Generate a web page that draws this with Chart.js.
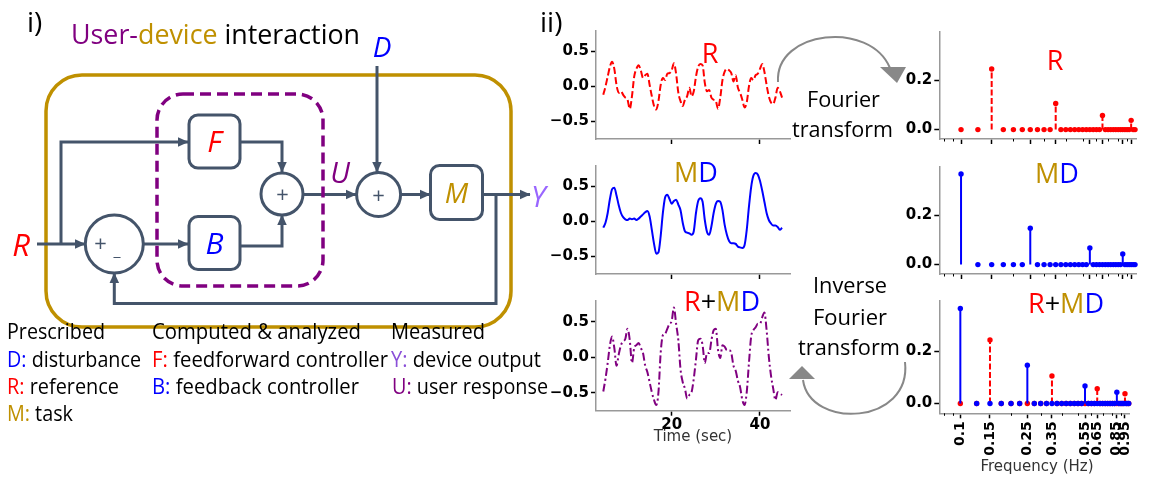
<!DOCTYPE html>
<html><head><meta charset="utf-8">
<script src="https://cdn.jsdelivr.net/npm/chart.js@4.4.1/dist/chart.umd.min.js"></script>
<style>
html,body{margin:0;padding:0;background:#fff;}
#wrap{position:relative;width:1150px;height:478px;overflow:hidden;background:#fff;}
canvas{position:absolute;}
#ov{position:absolute;left:0;top:0;pointer-events:none;}
</style></head><body><div id="wrap">
<canvas id="c1" width="250" height="130" style="left:550px;top:20px"></canvas>
<canvas id="c2" width="250" height="130" style="left:550px;top:155px"></canvas>
<canvas id="c3" width="250" height="140" style="left:550px;top:290px"></canvas>
<canvas id="c4" width="255" height="130" style="left:890px;top:20px"></canvas>
<canvas id="c5" width="255" height="130" style="left:890px;top:155px"></canvas>
<canvas id="c6" width="255" height="170" style="left:890px;top:290px"></canvas>
<svg id="ov" width="1150" height="478" viewBox="0 0 1150 478">
<defs>
<marker id="ah" viewBox="0 0 10 10" refX="9.5" refY="5" markerWidth="11" markerHeight="11" markerUnits="userSpaceOnUse" orient="auto"><path d="M0,0.5 L10,5 L0,9.5 z" fill="#44546A"/></marker>
</defs>
<g font-family="'Open Sans','Noto Sans',sans-serif">
<text x="27" y="32" font-size="28">i)</text>
<text x="540" y="32" font-size="28">ii)</text>
<text x="71" y="44" font-size="27" textLength="289" lengthAdjust="spacingAndGlyphs"><tspan fill="#800080">User-</tspan><tspan fill="#BF9000">device</tspan><tspan fill="#000"> interaction</tspan></text>

<rect x="46" y="75" width="465" height="252" rx="36" fill="none" stroke="#BF9000" stroke-width="3.5"/>
<g fill="none" stroke="#44546A" stroke-width="3">
<path d="M37 244 H85" marker-end="url(#ah)"/>
<path d="M61 244 V142 H188" marker-end="url(#ah)"/>
<path d="M240 142 H282 V172" marker-end="url(#ah)"/>
<path d="M143.5 244 H188" marker-end="url(#ah)"/>
<path d="M240 246 H282 V215" marker-end="url(#ah)"/>
<path d="M303 194.5 H356" marker-end="url(#ah)"/>
<path d="M377 66 V172" marker-end="url(#ah)"/>
<path d="M400.6 194.5 H430" marker-end="url(#ah)"/>
<path d="M483 194.5 H530" marker-end="url(#ah)"/>
<path d="M496 194.5 V303.5 H114.3 V273" marker-end="url(#ah)"/>
</g>
<rect x="157" y="94" width="166" height="192" rx="26" fill="none" stroke="#800080" stroke-width="3.5" stroke-dasharray="11 6"/>
<g fill="#fff" stroke="#44546A" stroke-width="3">
<rect x="189" y="115" width="51" height="53" rx="9"/>
<rect x="189" y="216.5" width="51" height="53" rx="9"/>
<rect x="430.5" y="165.5" width="52" height="54" rx="9"/>
<circle cx="114.3" cy="244" r="29"/>
<circle cx="282" cy="194" r="21"/>
<circle cx="378.6" cy="194.5" r="22"/>
</g>
<g font-style="italic" text-anchor="middle">
<text x="214.5" y="152" font-size="30" fill="#ff0000">F</text>
<text x="214.5" y="253.5" font-size="30" fill="#0000ff">B</text>
<text x="456.5" y="203" font-size="28" fill="#BF9000">M</text>
<text x="21" y="256" font-size="31" fill="#ff0000">R</text>
<text x="382" y="57" font-size="28" fill="#0000ff">D</text>
<text x="340" y="183" font-size="29" fill="#800080">U</text>
<text x="100" y="251" font-size="22" fill="#44546A">+</text>
<text x="282" y="202" font-size="22" fill="#44546A">+</text>
</g>
<text x="531" y="207" font-size="29" font-style="italic" fill="#9966ff">Y</text>
<text x="117" y="256" font-size="16" fill="#44546A" text-anchor="middle">_</text>
<text x="378.6" y="202.5" font-size="22" fill="#44546A" text-anchor="middle">+</text>

<g font-size="21" fill="#000">
<text x="7" y="339" textLength="98" lengthAdjust="spacingAndGlyphs">Prescribed</text>
<text x="152" y="339" textLength="209" lengthAdjust="spacingAndGlyphs">Computed &amp; analyzed</text>
<text x="391" y="339" textLength="94" lengthAdjust="spacingAndGlyphs">Measured</text>
<text x="7" y="366.5" textLength="134" lengthAdjust="spacingAndGlyphs"><tspan fill="#0000ff">D:</tspan> disturbance</text>
<text x="152" y="366.5" textLength="236" lengthAdjust="spacingAndGlyphs"><tspan fill="#ff0000">F:</tspan> feedforward controller</text>
<text x="391" y="366.5" textLength="150" lengthAdjust="spacingAndGlyphs"><tspan fill="#8a4fd8">Y:</tspan> device output</text>
<text x="7" y="394" textLength="112" lengthAdjust="spacingAndGlyphs"><tspan fill="#ff0000">R:</tspan> reference</text>
<text x="152" y="394" textLength="207" lengthAdjust="spacingAndGlyphs"><tspan fill="#0000ff">B:</tspan> feedback controller</text>
<text x="392" y="394" textLength="156" lengthAdjust="spacingAndGlyphs"><tspan fill="#800080">U:</tspan> user response</text>
<text x="7" y="421" textLength="66" lengthAdjust="spacingAndGlyphs"><tspan fill="#BF9000">M:</tspan> task</text>
</g>

<g font-size="22" fill="#000" text-anchor="middle">
<text x="843.5" y="106.5" textLength="73" lengthAdjust="spacingAndGlyphs">Fourier</text>
<text x="842.5" y="136.5" textLength="101" lengthAdjust="spacingAndGlyphs">transform</text>
<text x="850" y="293" textLength="74" lengthAdjust="spacingAndGlyphs">Inverse</text>
<text x="850" y="325" textLength="74" lengthAdjust="spacingAndGlyphs">Fourier</text>
<text x="849" y="355" textLength="102" lengthAdjust="spacingAndGlyphs">transform</text>
</g>
<path d="M778 82 C775 30, 870 20, 890 68" fill="none" stroke="#888" stroke-width="2"/>
<polygon points="880,67 906,67 897,83" fill="#888"/>
<path d="M905 362 C912 425, 810 430, 803 380" fill="none" stroke="#888" stroke-width="2"/>
<polygon points="789,379 815,379 802,366" fill="#888"/>

<g font-size="27" text-anchor="middle">
<text x="710" y="63" fill="#ff0000">R</text>
<text x="696" y="182"><tspan fill="#BF9000">M</tspan><tspan fill="#0000ff">D</tspan></text>
<text x="722" y="311"><tspan fill="#ff0000">R</tspan><tspan fill="#000">+</tspan><tspan fill="#BF9000">M</tspan><tspan fill="#0000ff">D</tspan></text>
<text x="1055" y="70" fill="#ff0000">R</text>
<text x="1057" y="183"><tspan fill="#BF9000">M</tspan><tspan fill="#0000ff">D</tspan></text>
<text x="1066" y="313"><tspan fill="#ff0000">R</tspan><tspan fill="#000">+</tspan><tspan fill="#BF9000">M</tspan><tspan fill="#0000ff">D</tspan></text>
</g>
</g>
<g font-family="'DejaVu Sans',sans-serif" font-size="15" fill="#333" text-anchor="middle">
<text x="693" y="441">Time (sec)</text>
<text x="1037" y="471">Frequency (Hz)</text>
</g>
</svg>
</div>
<script>
// ---- data ----
const timeSec = [4.5,5,5.5,6,6.5,7,7.5,8,8.5,9,9.5,10,10.5,11,11.5,12,12.5,13,13.5,14,14.5,15,15.5,16,16.5,17,17.5,18,18.5,19,19.5,20,20.5,21,21.5,22,22.5,23,23.5,24,24.5,25,25.5,26,26.5,27,27.5,28,28.5,29,29.5,30,30.5,31,31.5,32,32.5,33,33.5,34,34.5,35,35.5,36,36.5,37,37.5,38,38.5,39,39.5,40,40.5,41,41.5,42,42.5,43,43.5,44,44.5,45];
const refSignal = [-0.12,0.0,0.14,0.28,0.35,0.25,0.02,-0.09,-0.07,-0.12,-0.16,-0.19,-0.32,-0.14,0.14,0.25,0.30,0.23,0.12,0.16,0.18,0.02,-0.14,-0.28,-0.33,-0.21,0.02,0.12,0.09,0.18,0.19,0.23,0.33,0.18,-0.09,-0.21,-0.28,-0.19,-0.14,-0.02,-0.14,-0.07,0.14,0.28,0.32,0.30,0.05,-0.07,-0.05,-0.16,-0.19,-0.21,-0.32,-0.16,0.09,0.21,0.25,0.23,0.19,0.07,0.16,-0.02,-0.09,-0.19,-0.30,-0.23,0.0,0.12,0.09,0.16,0.18,0.25,0.32,0.21,0.02,-0.14,-0.23,-0.25,-0.16,-0.02,-0.07,-0.16];
const mdSignal = [-0.09,-0.02,0.12,0.32,0.46,0.48,0.37,0.23,0.12,0.06,0.03,0.02,0.04,0.03,0.04,0.02,0.04,0.07,0.10,0.13,0.15,0.07,-0.12,-0.32,-0.46,-0.44,-0.21,0.12,0.34,0.38,0.32,0.25,0.29,0.31,0.24,0.16,-0.02,-0.14,-0.16,-0.17,-0.19,-0.14,0.12,0.29,0.33,0.28,0.02,-0.15,-0.19,-0.07,0.12,0.25,0.29,0.28,0.16,-0.05,-0.19,-0.28,-0.31,-0.31,-0.32,-0.36,-0.37,-0.38,-0.34,-0.12,0.21,0.49,0.65,0.69,0.67,0.58,0.44,0.28,0.12,0.02,-0.03,-0.06,-0.06,-0.08,-0.12,-0.09];
const sumSignal = [-0.48,-0.30,-0.08,0.17,0.29,0.13,-0.12,0.04,0.17,0.22,0.26,0.40,0.24,-0.08,0.13,0.17,0.20,0.13,0.06,-0.12,-0.21,-0.35,-0.49,-0.60,-0.67,-0.49,0.06,0.31,0.33,0.40,0.47,0.51,0.70,0.47,0.24,-0.17,-0.35,-0.44,-0.58,-0.53,-0.49,-0.30,-0.03,0.24,0.26,0.17,-0.08,0.06,0.06,0.24,0.38,0.40,0.10,-0.01,0.17,0.15,0.10,0.10,0.06,-0.12,-0.19,-0.33,-0.42,-0.60,-0.67,-0.49,-0.08,0.29,0.38,0.42,0.47,0.47,0.56,0.63,0.38,0.01,-0.26,-0.44,-0.60,-0.49,-0.51,-0.53];
const freqHz = [0.1,0.125,0.15,0.175,0.2,0.225,0.25,0.275,0.3,0.325,0.35,0.375,0.4,0.425,0.45,0.475,0.5,0.525,0.55,0.575,0.6,0.625,0.65,0.675,0.7,0.725,0.75,0.775,0.8,0.825,0.85,0.875,0.9,0.925,0.95,0.975,1.0];
const refSpectrum = [0,0,0.245,0,0,0,0,0,0,0,0.106,0,0,0,0,0,0,0,0,0,0,0,0.057,0,0,0,0,0,0,0,0,0,0,0,0.0375,0,0];
const mdSpectrum = [0.366,0,0,0,0,0,0.147,0,0,0,0,0,0,0,0,0,0,0,0.067,0,0,0,0,0,0,0,0,0,0,0,0.043,0,0,0,0,0,0];
const timeTicks = [20,40];
const timeTickLabels = ['20','40'];
const ampTicks = [-0.5,0,0.5];
const ampTickLabels = ['\u22120.5','0.0','0.5'];
const specTicks = [0,0.2];
const specTickLabels = ['0.0','0.2'];
const freqTicks = [0.1,0.15,0.25,0.35,0.55,0.65,0.85,0.95];
const freqTickLabels = ['0.1','0.15','0.25','0.35','0.55','0.65','0.85','0.95'];
const freqMinorTicks = [0.08,0.09,0.2,0.3,0.4,0.5,0.6,0.7,0.8,0.9];

const RED='#ff0000', BLUE='#0000ff', PURPLE='#800080';
const tickFont = {family:"'DejaVu Sans', sans-serif", size:15, weight:'bold'};
const gridCfg = {drawOnChartArea:false, drawTicks:true, tickLength:5, tickColor:'#000', tickWidth:1.5};
const borderCfg = {display:true, color:'#999', width:1.5};

function baseOptions(box){
  return {
    responsive:false, animation:false, events:[], devicePixelRatio:1,
    layout:{autoPadding:false, padding:{left:0, top:box.pt, right:box.pr, bottom:0}},
    plugins:{legend:{display:false}, tooltip:{enabled:false}, title:{display:false}},
  };
}

function timeChart(id, values, color, dash, box, showX){
  const opts = baseOptions(box);
  opts.scales = {
    x:{type:'linear', min:2.85, max:46.8,
       afterFit:s=>{s.height=box.xh;},
       afterBuildTicks:s=>{s.ticks=timeTicks.map(v=>({value:v}));},
       ticks:{autoSkip:false, maxRotation:0, minRotation:0, padding:0, color:'#000', font:tickFont,
              callback:(v,i)=> showX ? timeTickLabels[i] : ''},
       grid:gridCfg, border:borderCfg},
    y:{type:'linear', min:-0.75, max:0.79,
       afterFit:s=>{s.width=box.yw;},
       afterBuildTicks:s=>{s.ticks=ampTicks.map(v=>({value:v}));},
       ticks:{padding:2, color:'#000', font:tickFont, callback:(v,i)=>ampTickLabels[i]},
       grid:gridCfg, border:borderCfg}
  };
  new Chart(document.getElementById(id), {
    type:'line',
    data:{datasets:[{data:timeSec.map((t,i)=>({x:t,y:values[i]})), borderColor:color, borderWidth:2,
      borderDash:dash, pointRadius:0, fill:false, cubicInterpolationMode:'monotone'}]},
    options:opts
  });
}

function stemSegments(values){
  const seg=[];
  freqHz.forEach((f,i)=>{ if(values[i]!==0){ seg.push({x:f,y:0},{x:f,y:values[i]},{x:f,y:null}); } });
  return seg;
}
function stemDatasets(values,color,dash,orderBase){
  return [
    {data:stemSegments(values), borderColor:color, borderWidth:2, borderDash:dash, pointRadius:0,
     spanGaps:false, tension:0, order:orderBase+1, clip:false},
    {data:freqHz.map((f,i)=>({x:f,y:values[i]})), showLine:false, pointRadius:2.7,
     pointBackgroundColor:color, pointBorderWidth:0, pointBorderColor:color, order:orderBase, clip:false}
  ];
}
const minorTickPlugin = {
  id:'minorTicks',
  afterDraw(chart){
    const s=chart.scales.x, ctx=chart.ctx;
    ctx.save(); ctx.strokeStyle='#000'; ctx.lineWidth=1;
    freqMinorTicks.forEach(v=>{
      if(v<s.min||v>s.max) return;
      const x=Math.round(s.getPixelForValue(v))+0.5;
      ctx.beginPath(); ctx.moveTo(x,s.top); ctx.lineTo(x,s.top+2.5); ctx.stroke();
    });
    ctx.restore();
  }
};
function stemChart(id, datasets, box, showX){
  const opts = baseOptions(box);
  opts.scales = {
    x:{type:'logarithmic', min:0.075, max:1.013,
       afterFit:s=>{s.height=box.xh;},
       afterBuildTicks:s=>{s.ticks=freqTicks.map(v=>({value:v}));},
       ticks:{autoSkip:false, maxRotation:showX?90:0, minRotation:showX?90:0, padding:3, color:'#000',
              font:{family:"'DejaVu Sans', sans-serif", size:14, weight:'bold'},
              callback:(v,i)=> showX ? freqTickLabels[i] : ''},
       grid:gridCfg, border:borderCfg},
    y:{type:'linear', min:-0.038, max:0.395,
       afterFit:s=>{s.width=box.yw;},
       afterBuildTicks:s=>{s.ticks=specTicks.map(v=>({value:v}));},
       ticks:{padding:2, color:'#000', font:tickFont, callback:(v,i)=>specTickLabels[i]},
       grid:gridCfg, border:borderCfg}
  };
  new Chart(document.getElementById(id), {type:'line', data:{datasets}, options:opts, plugins:[minorTickPlugin]});
}

const RDASH=[6,2.5], SDASH=[6,2.5];
timeChart('c1', refSignal, RED, [7,3], {pt:8, pr:10, yw:46, xh:8.3}, false);
timeChart('c2', mdSignal, BLUE, [], {pt:8.8, pr:10, yw:46, xh:9}, false);
timeChart('c3', sumSignal, PURPLE, [8,3,2,3], {pt:8, pr:10, yw:46, xh:19.3}, true);

stemChart('c4', stemDatasets(refSpectrum, RED, SDASH, 0), {pt:11.9, pr:9, yw:49.3, xh:6.2}, false);
stemChart('c5', stemDatasets(mdSpectrum, BLUE, [], 0), {pt:11.7, pr:9, yw:49.3, xh:6}, false);
stemChart('c6', stemDatasets(mdSpectrum, BLUE, [], 0).concat(stemDatasets(refSpectrum, RED, SDASH, 2)), {pt:11, pr:9, yw:49.3, xh:46.7}, true);
</script>
</body></html>
